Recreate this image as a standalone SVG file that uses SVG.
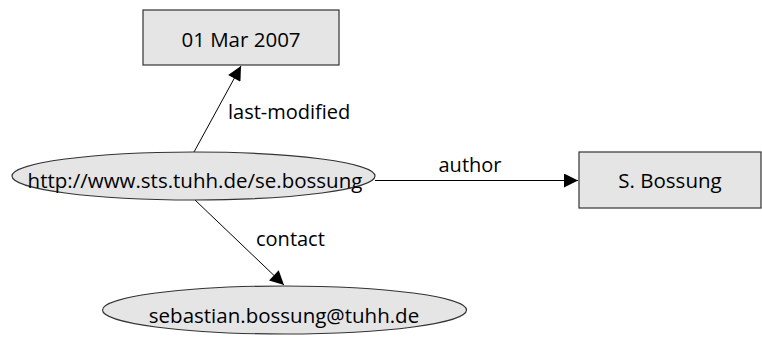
<svg xmlns="http://www.w3.org/2000/svg" width="762" height="340" viewBox="0 0 762 340">
<style>
.n{fill:#e5e5e5;stroke:#333;stroke-width:1.2}
.t{font-family:"Open Sans",sans-serif;font-size:20.5px;fill:#000;text-anchor:middle}
.e{stroke:#000;stroke-width:1;fill:none}
.l{font-family:"Open Sans",sans-serif;font-size:20px;fill:#000}
</style>
<defs>
<marker id="a" viewBox="0 0 10 10" refX="10" refY="5" markerWidth="19" markerHeight="14" markerUnits="userSpaceOnUse" orient="auto">
<path d="M0,0L10,5L0,10z" fill="#000"/>
</marker>
</defs>
<rect width="762" height="340" fill="#fff"/>
<g id="edges">
<line class="e" x1="194" y1="152" x2="241" y2="66" marker-end="url(#a)"/>
<text class="l" x="228" y="119">last-modified</text>
<line class="e" x1="375" y1="180.5" x2="578" y2="180.5" marker-end="url(#a)"/>
<text class="l" x="470" y="172" text-anchor="middle">author</text>
<line class="e" x1="195" y1="200" x2="284" y2="285" marker-end="url(#a)"/>
<text class="l" x="256" y="246">contact</text>
</g>
<g id="n1">
<rect class="n" x="143" y="10" width="196" height="55"/>
<text class="t" x="241" y="47">01 Mar 2007</text>
</g>
<g id="n0">
<ellipse class="n" cx="193.5" cy="176" rx="181.5" ry="24"/>
<text class="t" x="195" y="188">http://www.sts.tuhh.de/se.bossung</text>
</g>
<g id="n2">
<rect class="n" x="579" y="152" width="182" height="56"/>
<text class="t" x="670" y="188">S. Bossung</text>
</g>
<g id="n3">
<ellipse class="n" cx="284.5" cy="310" rx="182" ry="24"/>
<text class="t" x="284" y="323">sebastian.bossung@tuhh.de</text>
</g>
</svg>
